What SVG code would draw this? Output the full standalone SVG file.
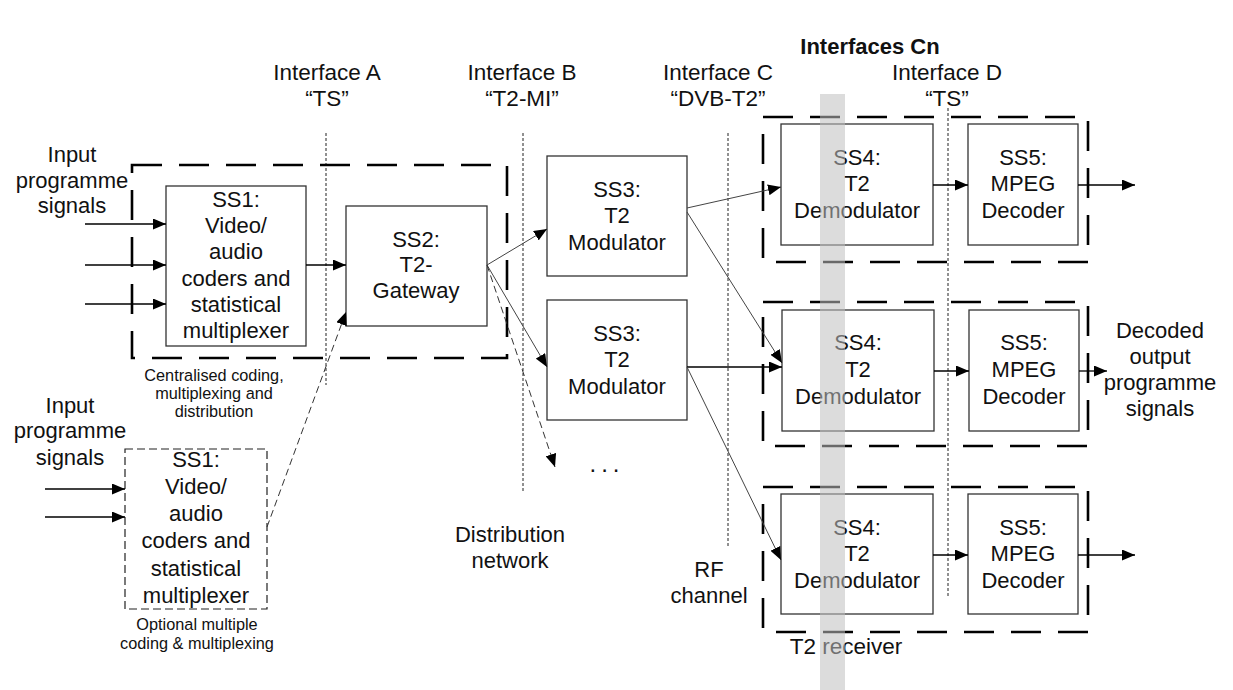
<svg xmlns="http://www.w3.org/2000/svg" width="1233" height="690" viewBox="0 0 1233 690">
<defs>
<marker id="ah" markerUnits="userSpaceOnUse" markerWidth="13" markerHeight="11" refX="13" refY="5.5" orient="auto">
<path d="M0,0 L13,5.5 L0,11 z" fill="#000"/>
</marker>
</defs>
<style>
text{font-family:"Liberation Sans",Arial,sans-serif;fill:#111;text-anchor:middle}
.lbl{font-size:22px}
.ifc{font-size:22.5px}
.sm{font-size:16.3px}
.box{fill:#fff;stroke:#333;stroke-width:1.3}
.obox{fill:#fff;stroke:#222;stroke-width:1.2;stroke-dasharray:8 4}
.grp{fill:none;stroke:#000;stroke-width:2.6;stroke-dasharray:30 17}
.ifl{fill:none;stroke:#222;stroke-width:1;stroke-dasharray:3 2}
.ar{fill:none;stroke:#000;stroke-width:1.3;marker-end:url(#ah)}
.sl{fill:none;stroke:#444;stroke-width:1;marker-end:url(#ah)}
.da{fill:none;stroke:#333;stroke-width:1;stroke-dasharray:7 4;marker-end:url(#ah)}
</style>
<rect width="1233" height="690" fill="#fff"/>

<g id="titles">
<text x="870" y="54" style="font-size:22px;font-weight:bold">Interfaces Cn</text>
<text class="ifc" x="327" y="80">Interface A</text>
<text class="ifc" x="327" y="106">“TS”</text>
<text class="ifc" x="522" y="80">Interface B</text>
<text class="ifc" x="522" y="106">“T2-MI”</text>
<text class="ifc" x="718" y="80">Interface C</text>
<text class="ifc" x="718" y="106">“DVB-T2”</text>
<text class="ifc" x="947" y="80">Interface D</text>
<text class="ifc" x="947" y="106">“TS”</text>
</g>

<g id="interface-lines">
<line class="ifl" x1="326" y1="133" x2="326" y2="385"/>
<line class="ifl" x1="523" y1="133" x2="523" y2="492"/>
<line class="ifl" x1="728" y1="133" x2="728" y2="547"/>
<line class="ifl" x1="948" y1="108" x2="948" y2="598"/>
</g>

<g id="group-central">
<rect class="grp" x="132" y="165" width="375" height="193"/>
<text class="sm" x="214" y="381">Centralised coding,</text>
<text class="sm" x="214" y="399">multiplexing and</text>
<text class="sm" x="214" y="417">distribution</text>
</g>

<g id="group-receivers">
<rect class="grp" x="763" y="117" width="325" height="145"/>
<rect class="grp" x="763" y="302" width="325" height="144"/>
<rect class="grp" x="763" y="487" width="325" height="145"/>
<text class="ifc" x="846" y="654">T2 receiver</text>
</g>

<g id="inputs-text">
<text class="lbl" x="72" y="162">Input</text>
<text class="lbl" x="72" y="188">programme</text>
<text class="lbl" x="72" y="213">signals</text>
<text class="lbl" x="70" y="413">Input</text>
<text class="lbl" x="70" y="438">programme</text>
<text class="lbl" x="70" y="465">signals</text>
</g>

<g id="ss1">
<rect class="box" x="166" y="186" width="140" height="160"/>
<text class="lbl" x="236" y="207">SS1:</text>
<text class="lbl" x="236" y="233">Video/</text>
<text class="lbl" x="236" y="259">audio</text>
<text class="lbl" x="236" y="286">coders and</text>
<text class="lbl" x="236" y="312">statistical</text>
<text class="lbl" x="236" y="338">multiplexer</text>
</g>

<g id="ss1-optional">
<rect class="obox" x="125" y="449" width="142" height="160"/>
<text class="lbl" x="196" y="467">SS1:</text>
<text class="lbl" x="196" y="494">Video/</text>
<text class="lbl" x="196" y="521">audio</text>
<text class="lbl" x="196" y="548">coders and</text>
<text class="lbl" x="196" y="576">statistical</text>
<text class="lbl" x="196" y="603">multiplexer</text>
<text class="sm" x="197" y="630">Optional multiple</text>
<text class="sm" x="197" y="649">coding &amp; multiplexing</text>
</g>

<g id="ss2">
<rect class="box" x="346" y="206" width="141" height="120"/>
<text class="lbl" x="416" y="247">SS2:</text>
<text class="lbl" x="416" y="272">T2-</text>
<text class="lbl" x="416" y="298">Gateway</text>
</g>

<g id="ss3-a">
<rect class="box" x="547" y="156" width="140" height="120"/>
<text class="lbl" x="617" y="197">SS3:</text>
<text class="lbl" x="617" y="223">T2</text>
<text class="lbl" x="617" y="250">Modulator</text>
</g>

<g id="ss3-b">
<rect class="box" x="547" y="300" width="140" height="120"/>
<text class="lbl" x="617" y="341">SS3:</text>
<text class="lbl" x="617" y="367">T2</text>
<text class="lbl" x="617" y="394">Modulator</text>
</g>

<g id="ss4-a">
<rect class="box" x="781" y="124" width="152" height="121"/>
<text class="lbl" x="857" y="165">SS4:</text>
<text class="lbl" x="857" y="191">T2</text>
<text class="lbl" x="857" y="218">Demodulator</text>
</g>
<g id="ss5-a">
<rect class="box" x="968" y="124" width="110" height="121"/>
<text class="lbl" x="1023" y="165">SS5:</text>
<text class="lbl" x="1023" y="191">MPEG</text>
<text class="lbl" x="1023" y="218">Decoder</text>
</g>

<g id="ss4-b">
<rect class="box" x="782" y="310" width="152" height="121"/>
<text class="lbl" x="858" y="350">SS4:</text>
<text class="lbl" x="858" y="377">T2</text>
<text class="lbl" x="858" y="404">Demodulator</text>
</g>
<g id="ss5-b">
<rect class="box" x="969" y="310" width="110" height="121"/>
<text class="lbl" x="1024" y="350">SS5:</text>
<text class="lbl" x="1024" y="377">MPEG</text>
<text class="lbl" x="1024" y="404">Decoder</text>
</g>

<g id="ss4-c">
<rect class="box" x="781" y="494" width="152" height="120"/>
<text class="lbl" x="857" y="535">SS4:</text>
<text class="lbl" x="857" y="561">T2</text>
<text class="lbl" x="857" y="588">Demodulator</text>
</g>
<g id="ss5-c">
<rect class="box" x="968" y="494" width="110" height="120"/>
<text class="lbl" x="1023" y="535">SS5:</text>
<text class="lbl" x="1023" y="561">MPEG</text>
<text class="lbl" x="1023" y="588">Decoder</text>
</g>

<g id="labels">
<text class="lbl" x="510" y="542">Distribution</text>
<text class="lbl" x="510" y="568">network</text>
<text class="lbl" x="709" y="577">RF</text>
<text class="lbl" x="709" y="603">channel</text>
<text class="lbl" x="1160" y="338">Decoded</text>
<text class="lbl" x="1160" y="364">output</text>
<text class="lbl" x="1160" y="390">programme</text>
<text class="lbl" x="1160" y="416">signals</text>
<text class="lbl" x="607" y="472" style="font-size:24px;letter-spacing:5px">...</text>
</g>

<g id="connectors">
<line class="ar" x1="85" y1="224" x2="166" y2="224"/>
<line class="ar" x1="85" y1="265" x2="166" y2="265"/>
<line class="ar" x1="85" y1="304" x2="166" y2="304"/>
<line class="ar" x1="45" y1="489" x2="125" y2="489"/>
<line class="ar" x1="45" y1="517" x2="125" y2="517"/>
<line class="ar" x1="306" y1="265" x2="346" y2="265"/>
<line class="da" x1="267" y1="527" x2="346" y2="312"/>
<line class="sl" x1="487" y1="265" x2="547" y2="229"/>
<line class="sl" x1="487" y1="265" x2="547" y2="367"/>
<line class="da" x1="487" y1="265" x2="555" y2="467"/>
<line class="sl" x1="687" y1="208" x2="781" y2="187"/>
<line class="sl" x1="687" y1="212" x2="782" y2="363"/>
<line class="ar" x1="687" y1="367" x2="782" y2="367"/>
<line class="sl" x1="687" y1="367" x2="781" y2="560"/>
<line class="ar" x1="933" y1="185" x2="968" y2="185"/>
<line class="ar" x1="1078" y1="185" x2="1135" y2="185"/>
<line class="ar" x1="934" y1="371" x2="969" y2="371"/>
<line class="ar" x1="1079" y1="371" x2="1107" y2="371"/>
<line class="ar" x1="933" y1="555" x2="968" y2="555"/>
<line class="ar" x1="1078" y1="555" x2="1135" y2="555"/>
</g>

<rect id="band" x="820" y="94" width="25" height="596" fill="#c0c0c0" opacity="0.55"/>
</svg>
